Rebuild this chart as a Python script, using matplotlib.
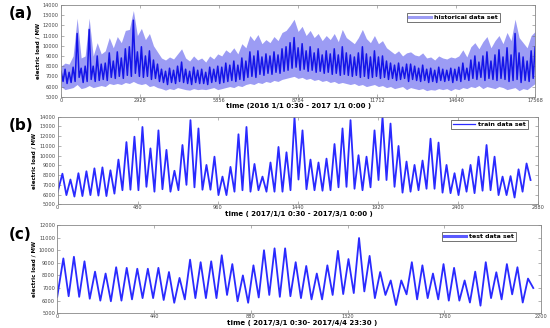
import numpy as np
import matplotlib
matplotlib.use('Agg')
import matplotlib.pyplot as plt
from matplotlib.lines import Line2D

# ---- panel (a): historical data set, read as ~3-day envelopes ----
hist_upper = [8000, 8300, 8200, 9000, 12700, 8800, 9000, 12700, 9000, 10300,
              9200, 9500, 10800, 9800, 10900, 10300, 11500, 11600, 13450, 11000,
              11700, 10600, 11200, 10000, 9400, 8800, 8600, 8900, 8700, 9200,
              9700, 8800, 8500, 9000, 8600, 8800, 8400, 9000, 8700, 9200,
              9000, 9600, 9300, 9800, 9200, 10200, 9800, 11000, 10500, 11100,
              10200, 10600, 10300, 10900, 10500, 11300, 11500, 12000, 12600, 11400,
              11900, 11000, 11500, 10800, 11200, 10500, 11000, 10600, 11200, 10400,
              11600, 10800, 10500, 10200, 10800, 11600, 10700, 10300, 11000, 10200,
              10500, 9800, 9500, 9200, 9500, 9000, 9300, 9400, 9100, 9000,
              9300, 8800, 8900, 8600, 9000, 8800, 8700, 8900, 8800, 9000,
              9600, 8900, 9900, 10300, 9700, 10400, 10900, 9800, 10500, 11000,
              10200, 11300, 10500, 12600, 10800, 10300, 9800, 11000, 11400]
hist_lower = [6000, 5700, 5800, 5900, 6200, 5800, 5900, 6100, 5900, 6000,
              6100, 6000, 6300, 6200, 6300, 6200, 6400, 6300, 6500, 6300,
              6200, 6300, 6000, 6100, 5900, 5800, 5650, 5800, 5700, 5900,
              5800, 5700, 5650, 5800, 5700, 5750, 5700, 5800, 5900, 5700,
              5800, 5900, 6000, 5900, 6100, 6000, 6200, 6300, 6200, 6400,
              6300, 6500, 6400, 6600, 6500, 6700, 6800, 6900, 7000, 6800,
              6900, 6700, 6800, 6600, 6700, 6500, 6600, 6400, 6500, 6300,
              6400, 6300, 6200, 6300, 6100, 6200, 6000, 6100, 6200, 6000,
              6100, 5900, 6000, 5800, 5900, 6000, 5700, 5900, 5800, 5700,
              5800, 5600, 5700, 5650, 5800, 5700, 5800, 5600, 5800, 5700,
              5900, 5800, 6000, 5900, 6100, 5800, 6000, 5900, 5800, 6000,
              5900, 5700, 5800, 5900, 5600, 5800, 5700, 6000, 6300]
hist_dark_hi = [7500, 7700, 7400, 7900, 11200, 7800, 8000, 11600, 8000, 9000,
                8200, 8300, 9300, 8500, 9400, 8800, 9700, 9900, 12500, 9400,
                9900, 9000, 9500, 8600, 8200, 7700, 7500, 7800, 7600, 8000,
                8400, 7700, 7500, 7900, 7600, 7700, 7400, 7900, 7700, 8000,
                7900, 8300, 8100, 8500, 8100, 8800, 8500, 9400, 9000, 9500,
                8900, 9200, 9000, 9400, 9100, 9700, 9900, 10300, 10800, 9800,
                10200, 9500, 9900, 9300, 9700, 9100, 9500, 9200, 9700, 9100,
                9900, 9300, 9100, 8900, 9300, 9900, 9200, 8900, 9500, 8900,
                9000, 8500, 8300, 8100, 8300, 7900, 8200, 8200, 8000, 7800,
                8100, 7700, 7800, 7600, 7900, 7700, 7600, 7800, 7700, 7900,
                8300, 7800, 8600, 9000, 8400, 9000, 9400, 8500, 9100, 9600,
                8900, 9800, 9100, 11200, 9300, 8900, 8500, 9500, 9900]
hist_dark_lo = [6500, 6300, 6400, 6500, 6900, 6400, 6500, 6700, 6500, 6600,
                6700, 6600, 6900, 6800, 7000, 6800, 7100, 7000, 7300, 7000,
                6900, 7000, 6700, 6800, 6500, 6400, 6200, 6400, 6300, 6500,
                6400, 6300, 6200, 6400, 6300, 6300, 6200, 6400, 6500, 6300,
                6400, 6500, 6600, 6500, 6700, 6600, 6900, 7000, 6900, 7200,
                7100, 7300, 7200, 7400, 7300, 7500, 7600, 7800, 7900, 7600,
                7700, 7500, 7600, 7400, 7500, 7300, 7400, 7200, 7300, 7100,
                7200, 7100, 7000, 7100, 6900, 7000, 6800, 6900, 7000, 6800,
                6900, 6700, 6800, 6600, 6700, 6800, 6500, 6700, 6600, 6500,
                6600, 6400, 6500, 6400, 6600, 6500, 6600, 6400, 6600, 6500,
                6700, 6600, 6800, 6700, 6900, 6600, 6800, 6700, 6600, 6800,
                6700, 6500, 6600, 6700, 6400, 6600, 6500, 6800, 7100]

# ---- panel (b): train data set, daily peaks and troughs ----
train_start = 6300
train_peaks = [8150, 7550, 8200, 8400, 8700, 8800, 8500, 9600, 11400, 11950,
               12950, 10750, 12600, 10600, 8450, 11100, 13650, 12800, 9050, 9900,
               7850, 8850, 12200, 12950, 9150, 7850, 9300, 10900, 10350, 13950,
               12600, 9600, 9300, 9700, 11200, 12800, 13650, 10050, 9900, 12600,
               14000, 13300, 11000, 9400, 9050, 9500, 11750, 11350, 9050, 8200,
               8600, 9050, 9900, 11100, 9900, 7850, 7900, 8600, 9200]
train_troughs = [5950, 5800, 5850, 5950, 5900, 5850, 6100, 6450, 6500, 6450,
                 6800, 6300, 6550, 6300, 6450, 7000, 6750, 6500, 6500, 5950,
                 5950, 6300, 6450, 6300, 6450, 6300, 6300, 6300, 6450, 7550,
                 6550, 6450, 6400, 6450, 6750, 6800, 6600, 6450, 6750, 7500,
                 7500, 6800, 6200, 6300, 6450, 6600, 6600, 6200, 6150, 5950,
                 6300, 6150, 6400, 6450, 5950, 5950, 5700, 6300, 7500]

# ---- panel (c): test data set, daily peaks and troughs ----
test_start = 6300
test_peaks = [9350, 9480, 9120, 8300, 8150, 8650, 8600, 8530, 8530, 8600,
              8270, 7800, 9250, 9050, 9120, 9600, 8900, 8000, 8800, 10000,
              10150, 10150, 9050, 8750, 8150, 8800, 9950, 9300, 10970, 9550,
              8270, 7600, 7600, 9050, 8800, 8150, 8900, 8600, 7600, 8300,
              9050, 8250, 8900, 8650, 7750]
test_troughs = [6350, 6300, 6150, 6000, 5950, 6000, 6100, 6200, 6200, 6050,
                5830, 6100, 6200, 6200, 6200, 6450, 5950, 5830, 6250, 6450,
                6300, 6350, 6200, 6100, 6100, 6450, 6520, 6600, 6730, 6200,
                6450, 5650, 6500, 6100, 6200, 6100, 6000, 6000, 5850, 5600,
                6200, 6100, 6500, 5850, 7000]

panels = [
    ('(a)', [0, 17568], [0, 2928, 5856, 8784, 11712, 14640, 17568], [5000, 14000],
     'time (2016 1/1 0:30 - 2017 1/1 0:00 )', 'historical data set'),
    ('(b)', [0, 2880], [0, 480, 960, 1440, 1920, 2400, 2880], [5000, 14000],
     'time ( 2017/1/1 0:30 - 2017/3/1 0:00 )', 'train data set'),
    ('(c)', [0, 2200], [0, 440, 880, 1320, 1760, 2200], [5000, 12000],
     'time ( 2017/3/1 0:30- 2017/4/4 23:30 )', 'test data set'),
]

dark = '#1414e8'
light = '#9c9cf4'
line_c = '#2a2aff'

fig = plt.figure(figsize=(5.5, 3.28), dpi=100)
boxes = [[0.111, 0.705, 0.862, 0.280],
         [0.105, 0.377, 0.873, 0.267],
         [0.104, 0.045, 0.880, 0.269]]
legend_at = [(0.73, 0.915), (0.82, 0.965), (0.795, 0.925)]
tag_y = [0.96, 0.616, 0.284]
xlab_pos = [(299, 106), (299, 214), (302, 323.5)]

axes = [fig.add_axes(b) for b in boxes]

# (a) light envelope + dark zigzag
ax = axes[0]
x = np.linspace(0, 17568, len(hist_upper))
dx = x[1] - x[0]
ax.fill_between(x, hist_lower, hist_upper, color=light, lw=0)
xs = np.column_stack([x, x + dx / 2]).ravel()
ys = np.column_stack([hist_dark_hi, hist_dark_lo]).ravel()
ax.plot(xs, ys, color=dark, lw=1.1)

# (b) and (c): daily zigzag from troughs and peaks
def daily_line(start, peaks, troughs):
    d = np.arange(len(peaks))
    xp = 28 + 48 * d
    xt = 52 + 48 * d
    xx = np.concatenate([[0], np.column_stack([xp, xt]).ravel()])
    yy = np.concatenate([[start], np.column_stack([peaks, troughs]).ravel()])
    return xx, yy

bx, by = daily_line(train_start, train_peaks, train_troughs)
axes[1].plot(bx, by, color=line_c, lw=1.3)
cx, cy = daily_line(test_start, test_peaks, test_troughs)
axes[2].plot(cx, cy, color=line_c, lw=1.3)

legend_styles = [dict(color=light, lw=2.2), dict(color=line_c, lw=0.9), dict(color='#5a5aff', lw=2.2)]

for i, (ax, (tag, xl, xt, yl, xlab, leg)) in enumerate(zip(axes, panels)):
    ax.set_xlim(xl)
    ax.set_ylim(yl)
    ax.set_xticks(xt)
    ax.set_yticks(np.arange(yl[0], yl[1] + 1, 1000))
    ax.tick_params(direction='in', length=2, width=0.4, labelsize=3.6,
                   labelcolor='#444444', color='#777777', pad=1.5,
                   top=True, right=True)
    ax.tick_params(axis='x', pad=0.6)
    for s in ax.spines.values():
        s.set_color('#888888')
        s.set_linewidth(0.6)
    ax.set_ylabel('electric load / MW', fontsize=4.0, fontweight='bold', labelpad=2)
    px, py = xlab_pos[i]
    fig.text(px / 550, 1 - py / 328, xlab, fontsize=5.0, fontweight='bold',
             ha='center', va='center')
    fig.text(0.015, tag_y[i], tag, fontsize=11, fontweight='bold',
             ha='left', va='center')
    h = Line2D([], [], **legend_styles[i])
    lg = ax.legend([h], [leg], loc='upper left', bbox_to_anchor=legend_at[i],
                   fontsize=4.5, frameon=True, fancybox=False, borderpad=0.3,
                   handlelength=3.5, handletextpad=0.5, borderaxespad=0)
    lg.get_frame().set_edgecolor('#333333')
    lg.get_frame().set_linewidth(0.6)
    for t in lg.get_texts():
        t.set_fontweight('bold')

fig.savefig('out.png', dpi=100)
